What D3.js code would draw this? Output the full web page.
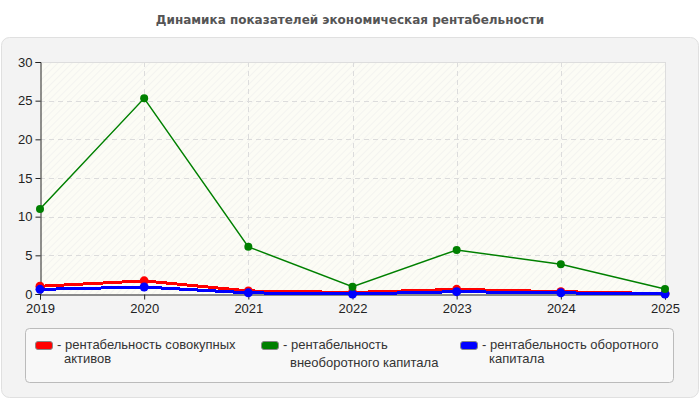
<!DOCTYPE html>
<html>
<head>
<meta charset="utf-8">
<script src="https://cdn.jsdelivr.net/npm/d3@7"></script>
<style>
  body { margin: 0; background: #fff; }
  svg { display: block; font-family: "Liberation Sans", Arial, sans-serif; }
</style>
</head>
<body>
<div id="chart"></div>
<script>
// chart data
const years = ["2019", "2020", "2021", "2022", "2023", "2024", "2025"];
const assetsReturn = [1.0, 1.7, 0.4, 0.2, 0.6, 0.3, 0.05];
const fixedCapitalReturn = [11.0, 25.3, 6.1, 0.95, 5.7, 3.85, 0.65];
const workingCapitalReturn = [0.6, 0.9, 0.15, 0.0, 0.3, 0.15, 0.0];
const yTicks = [0, 5, 10, 15, 20, 25, 30];
const seriesNames = [
    ["рентабельность совокупных", "активов"],
    ["рентабельность", "внеоборотного капитала"],
    ["рентабельность оборотного", "капитала"]
];
const seriesColors = ["#ff0000", "#008000", "#0000ff"];

const W = 700, H = 400;
const plot = { left: 40, right: 665, top: 62, bottom: 294 };

const svg = d3.select("#chart")
    .append("svg")
    .attr("width", W)
    .attr("height", H);

// hatch pattern for the plot background
const defs = svg.append("defs");
const pat = defs.append("pattern")
    .attr("id", "hatch")
    .attr("width", 5)
    .attr("height", 5)
    .attr("patternUnits", "userSpaceOnUse")
    .attr("patternTransform", "rotate(45)");
pat.append("line")
    .attr("x1", 0).attr("y1", 0).attr("x2", 0).attr("y2", 5)
    .style("stroke", "#ececec")
    .style("stroke-width", 1);

// title
svg.append("text")
    .attr("x", W / 2)
    .attr("y", 24)
    .attr("text-anchor", "middle")
    .style("font-family", "'DejaVu Sans', Verdana, sans-serif")
    .style("font-size", "12px")
    .style("font-weight", "bold")
    .style("fill", "#555")
    .text("Динамика показателей экономическая рентабельности");

// outer panel
svg.append("rect")
    .attr("x", 1.5).attr("y", 37.5)
    .attr("width", 697).attr("height", 360)
    .attr("rx", 8)
    .style("fill", "#f3f3f3")
    .style("stroke", "#e0e0e0");

// plot background
svg.append("rect")
    .attr("x", plot.left).attr("y", plot.top)
    .attr("width", plot.right - plot.left).attr("height", plot.bottom - plot.top)
    .style("fill", "#fcfcf5");
svg.append("rect")
    .attr("x", plot.left).attr("y", plot.top)
    .attr("width", plot.right - plot.left).attr("height", plot.bottom - plot.top)
    .style("fill", "url(#hatch)");

const xScale = d3.scalePoint().domain(years).range([plot.left, plot.right]);
const yScale = d3.scaleLinear().domain([0, 30]).range([plot.bottom, plot.top]);

// grid
const grid = svg.append("g");
grid.selectAll(".hgrid")
    .data(yTicks.filter((d) => d > 0))
    .enter().append("line")
    .attr("x1", plot.left).attr("x2", plot.right)
    .attr("y1", (d) => Math.round(yScale(d)) + 0.5)
    .attr("y2", (d) => Math.round(yScale(d)) + 0.5)
    .style("stroke", "#dcdcdc")
    .style("stroke-dasharray", "5,4");
grid.selectAll(".vgrid")
    .data(years.slice(1))
    .enter().append("line")
    .attr("y1", plot.top).attr("y2", plot.bottom)
    .attr("x1", (d) => Math.round(xScale(d)) + 0.5)
    .attr("x2", (d) => Math.round(xScale(d)) + 0.5)
    .style("stroke", "#dcdcdc")
    .style("stroke-dasharray", "5,4");

// plot border top/right
svg.append("path")
    .attr("d", `M${plot.left},${plot.top + 0.5}H${plot.right + 0.5}V${plot.bottom}`)
    .style("fill", "none")
    .style("stroke", "#dddddd");

// axes
const yAxis = svg.append("g")
    .attr("transform", `translate(${plot.left + 0.5},0)`)
    .call(d3.axisLeft(yScale).tickValues(yTicks).tickSize(5).tickPadding(3));
const xAxis = svg.append("g")
    .attr("transform", `translate(0,${plot.bottom + 0.5})`)
    .call(d3.axisBottom(xScale).tickSize(5).tickPadding(4));
[yAxis, xAxis].forEach((ax) => {
    ax.select(".domain").style("stroke", "#222");
    ax.selectAll(".tick line").style("stroke", "#222");
    ax.selectAll("text")
        .style("font-size", "13px")
        .style("fill", "#222")
        .style("font-family", "'Liberation Sans', Arial, sans-serif");
});

// lines
const allSeries = [
    { values: assetsReturn, color: seriesColors[0], width: 3, r: 4.5, crisp: true },
    { values: workingCapitalReturn, color: seriesColors[2], width: 3, r: 4.5, crisp: true },
    { values: fixedCapitalReturn, color: seriesColors[1], width: 1.5, r: 4, crisp: false }
];

const line = d3.line()
    .x((d, i) => xScale(years[i]))
    .y((d) => yScale(d));

allSeries.forEach((s) => {
    svg.append("path")
        .datum(s.values)
        .attr("d", line)
        .style("fill", "none")
        .style("stroke", s.color)
        .style("stroke-width", s.width)
        .style("shape-rendering", s.crisp ? "crispEdges" : "auto");
    svg.selectAll(null)
        .data(s.values)
        .enter().append("circle")
        .attr("cx", (d, i) => xScale(years[i]))
        .attr("cy", (d) => yScale(d))
        .attr("r", s.r)
        .style("fill", s.color);
});

// legend
svg.append("rect")
    .attr("x", 25.5).attr("y", 328.5)
    .attr("width", 648).attr("height", 54)
    .attr("rx", 4)
    .style("fill", "#f8f8f8")
    .style("stroke", "#bbbbbb");

const legendX = [35, 261, 460];
const legendLineGap = [14, 18, 14];
seriesNames.forEach((name, i) => {
    const g = svg.append("g").attr("transform", `translate(${legendX[i]},339)`);
    g.append("rect")
        .attr("x", 0.5).attr("y", 2.5)
        .attr("width", 17).attr("height", 8)
        .attr("rx", 2.5)
        .style("fill", seriesColors[i])
        .style("stroke", "#888");
    g.append("text")
        .attr("x", 22)
        .attr("y", 10)
        .style("font-size", "13px")
        .style("fill", "#333")
        .text("- " + name[0]);
    g.append("text")
        .attr("x", 29)
        .attr("y", 10 + legendLineGap[i])
        .style("font-size", "13px")
        .style("fill", "#333")
        .text(name[1]);
});
</script>
</body>
</html>
